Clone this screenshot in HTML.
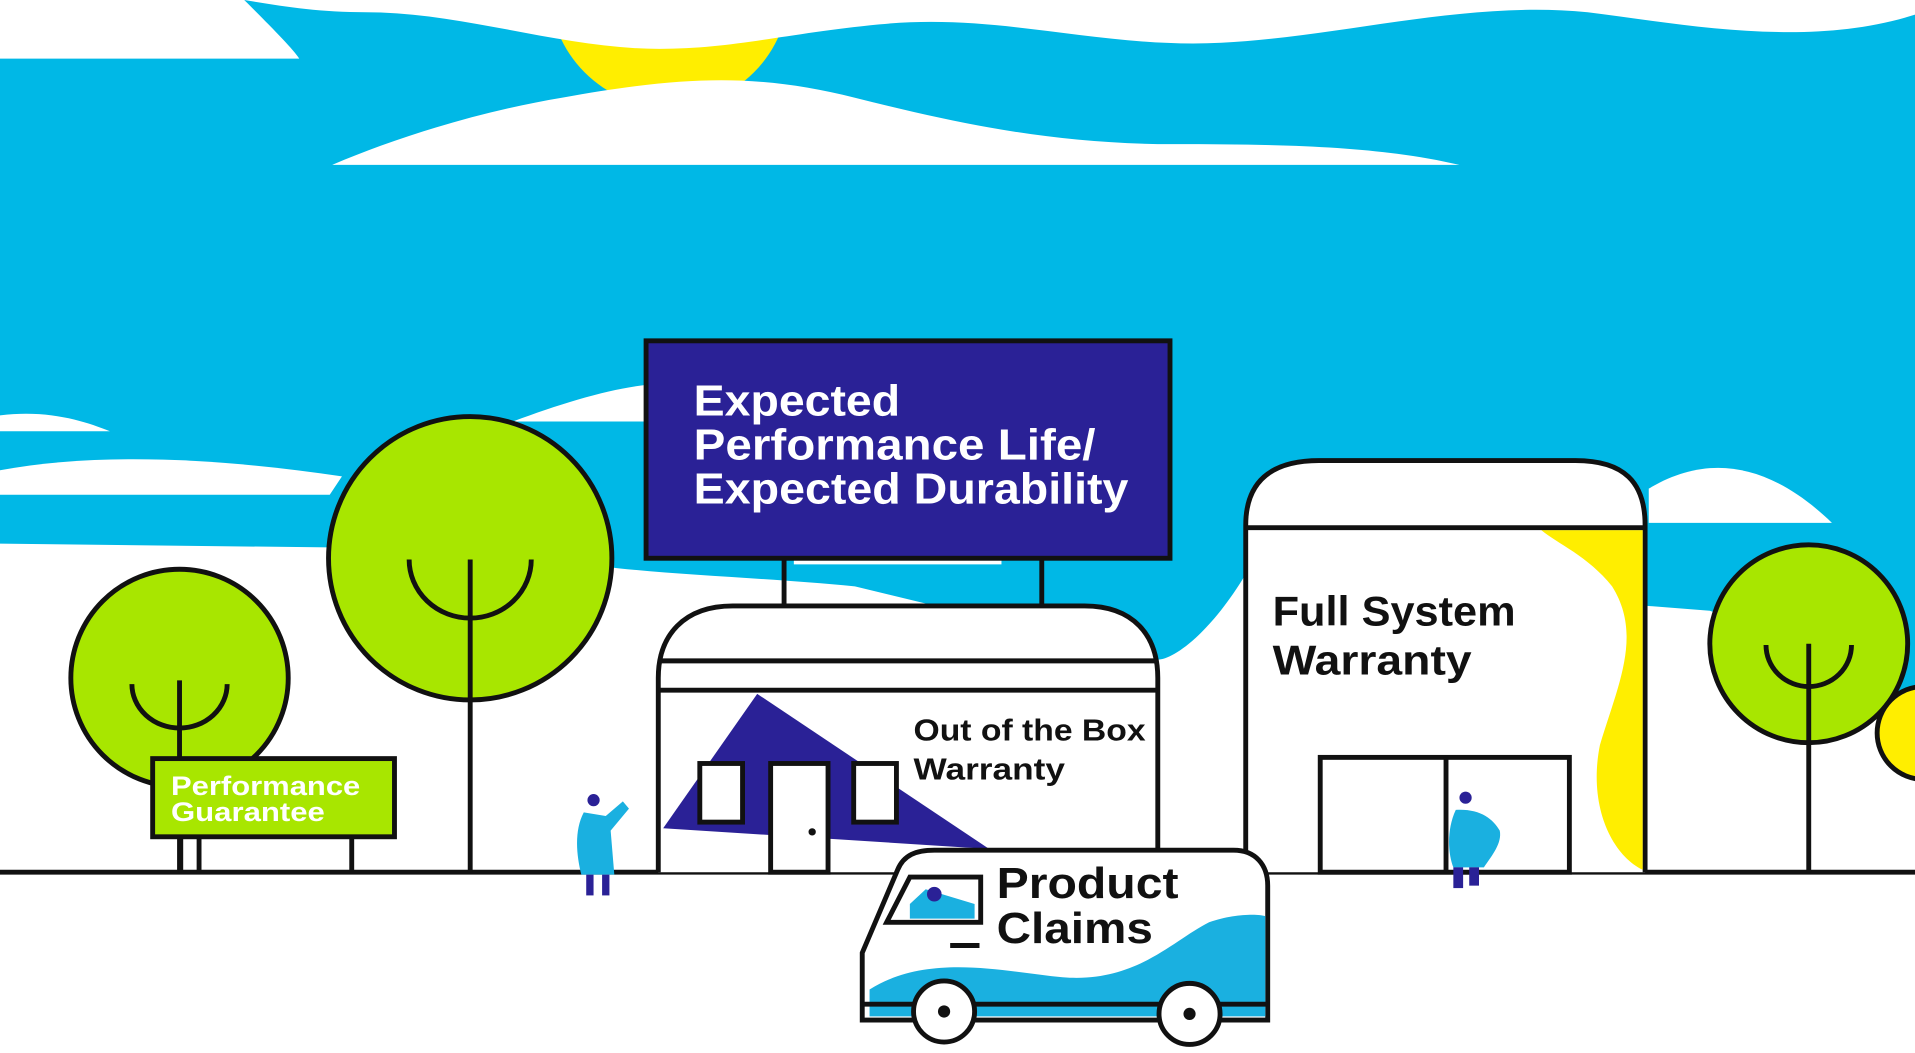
<!DOCTYPE html>
<html><head><meta charset="utf-8"><style>
html,body{margin:0;padding:0;background:#fff;overflow:hidden}
svg{display:block}
text{font-family:"Liberation Sans",sans-serif;font-weight:bold}
</style></head><body>
<svg width="1915" height="1053" viewBox="0 0 1568 862" preserveAspectRatio="none" xmlns="http://www.w3.org/2000/svg">
<rect width="1568" height="862" fill="#fff"/>
<path d="M0 0 H1568 V570 C1500 560 1460 520 1400 500 L1020 470 C990 520 960 540 948 540 L700 480 C600 470 480 470 430 450 L0 445 Z" fill="#00b8e6"/>
<circle cx="548" cy="-10" r="98" fill="#ffee00"/>
<path d="M0 0 H1568 V12 C1480 40 1380 20 1300 10 C1200 0 1100 30 1000 35 C900 40 820 10 720 20 C640 28 600 40 540 40 C460 40 380 10 300 10 C260 10 230 5 200 0 Z" fill="#fff"/>
<path d="M0 0 H200 C220 20 240 40 245 48 H0 Z" fill="#fff"/>
<path d="M272 135 C330 110 400 90 460 80 C560 62 620 60 700 80 C780 100 860 118 960 118 C1060 118 1130 120 1195 135 Z" fill="#fff"/>
<path d="M0 340 C40 335 70 345 90 353 H0 Z" fill="#fff"/>
<path d="M0 385 C80 370 180 375 280 390 L270 405 H0 Z" fill="#fff"/>
<path d="M420 345 C460 330 500 318 530 315 V345 Z" fill="#fff"/>
<path d="M1350 400 C1400 370 1450 380 1500 428 H1350 Z" fill="#fff"/>
<path d="M650 462 H820 L820 457 H650 Z" fill="#fff"/>
<line x1="0" y1="714" x2="1568" y2="714" stroke="#111" stroke-width="4"/>
<g stroke="#111" stroke-width="4" fill="none">
<circle cx="147" cy="555" r="89" fill="#a8e600"/>
<line x1="147" y1="557" x2="147" y2="714"/>
<path d="M108 560 A39 36 0 0 0 186 560"/>
<circle cx="385" cy="457" r="116" fill="#a8e600"/>
<line x1="385" y1="458" x2="385" y2="714"/>
<path d="M335 458 A50 48 0 0 0 435 458"/>
<circle cx="1481" cy="527" r="81" fill="#a8e600"/>
<line x1="1481" y1="527" x2="1481" y2="714"/>
<path d="M1446 528 A35 34 0 0 0 1516 528"/>
<circle cx="1575" cy="600" r="38" fill="#ffee00"/>
</g>
<g stroke="#111" stroke-width="4">
<line x1="148" y1="684" x2="148" y2="714"/><line x1="163" y1="684" x2="163" y2="714"/><line x1="288" y1="684" x2="288" y2="714"/>
<rect x="125" y="621" width="198" height="64" fill="#a8e600"/>
</g>
<text x="140" y="651" font-size="22" fill="#fff" textLength="155" lengthAdjust="spacingAndGlyphs">Performance</text>
<text x="140" y="672" font-size="22" fill="#fff" textLength="126" lengthAdjust="spacingAndGlyphs">Guarantee</text>
<g stroke="#111" stroke-width="4">
<line x1="642" y1="457" x2="642" y2="497"/><line x1="853" y1="457" x2="853" y2="497"/>
<rect x="529" y="279" width="429" height="178" fill="#2a2196"/>
</g>
<text font-size="36" fill="#fff"><tspan x="568" y="340" textLength="169" lengthAdjust="spacingAndGlyphs">Expected</tspan></text>
<text font-size="36" fill="#fff"><tspan x="568" y="376" textLength="329" lengthAdjust="spacingAndGlyphs">Performance Life/</tspan></text>
<text font-size="36" fill="#fff"><tspan x="568" y="412" textLength="356" lengthAdjust="spacingAndGlyphs">Expected Durability</tspan></text>
<path d="M539 714 V555 C539 520 560 496 600 496 H888 C928 496 948 520 948 555 V714" fill="#fff" stroke="#111" stroke-width="4"/>
<line x1="539" y1="541" x2="948" y2="541" stroke="#111" stroke-width="4"/>
<line x1="539" y1="565" x2="948" y2="565" stroke="#111" stroke-width="4"/>
<polygon points="620,568 543,678 810,695" fill="#2a2196"/>
<g stroke="#111" stroke-width="4" fill="#fff">
<rect x="573" y="625" width="35" height="48"/>
<rect x="699" y="625" width="35" height="48"/>
<rect x="631" y="625" width="47" height="89"/>
</g>
<circle cx="665" cy="681" r="3" fill="#111"/>
<text x="748" y="606" font-size="25" fill="#111" textLength="190" lengthAdjust="spacingAndGlyphs">Out of the Box</text>
<text x="748" y="638" font-size="25" fill="#111" textLength="124" lengthAdjust="spacingAndGlyphs">Warranty</text>
<path d="M1020 714 V430 C1020 395 1040 377 1080 377 H1290 C1330 377 1347 395 1347 430 V714" fill="#fff" stroke="#111" stroke-width="4"/>
<path d="M1262 434 H1345 V712 C1320 700 1300 660 1310 610 C1325 560 1345 520 1320 480 C1300 455 1275 445 1262 434 Z" fill="#ffee00"/>
<line x1="1020" y1="432" x2="1347" y2="432" stroke="#111" stroke-width="4"/>
<rect x="1081" y="620" width="204" height="94" fill="none" stroke="#111" stroke-width="4"/>
<line x1="1184" y1="620" x2="1184" y2="714" stroke="#111" stroke-width="4"/>
<text x="1042" y="512" font-size="34" fill="#111" textLength="199" lengthAdjust="spacingAndGlyphs">Full System</text>
<text x="1042" y="552" font-size="34" fill="#111" textLength="163" lengthAdjust="spacingAndGlyphs">Warranty</text>
<g>
<circle cx="486" cy="655" r="5" fill="#2a2196"/>
<path d="M478 665 C470 680 472 700 476 716 H503 L500 680 L515 662 L510 656 L496 668 Z" fill="#1ab0e0"/>
<rect x="480" y="716" width="6" height="17" fill="#2a2196"/><rect x="493" y="716" width="6" height="17" fill="#2a2196"/>
<circle cx="1200" cy="653" r="5" fill="#2a2196"/>
<path d="M1192 663 C1184 680 1186 700 1190 710 H1215 C1222 700 1230 690 1228 680 C1222 670 1212 662 1192 663 Z" fill="#1ab0e0"/>
<rect x="1190" y="710" width="8" height="17" fill="#2a2196"/><rect x="1203" y="710" width="8" height="15" fill="#2a2196"/>
</g>
<path d="M706 835 V780 L735 712 C740 700 750 696 765 696 H1010 C1028 696 1038 708 1038 725 V835 Z" fill="#fff" stroke="#111" stroke-width="4"/>
<path d="M712 832 V810 C760 780 820 795 870 800 C930 805 960 770 990 755 C1010 748 1030 748 1036 750 V832 Z" fill="#1ab0e0"/>
<line x1="706" y1="822" x2="1038" y2="822" stroke="#111" stroke-width="4"/>
<path d="M726 755 L745 718 H803 V755 Z" fill="#fff" stroke="#111" stroke-width="4"/>
<path d="M745 740 L758 728 L798 740 V752 H745 Z" fill="#1ab0e0"/>
<circle cx="765" cy="732" r="6" fill="#2a2196"/>
<line x1="778" y1="774" x2="802" y2="774" stroke="#111" stroke-width="4"/>
<text x="816" y="735" font-size="36" fill="#111" textLength="149" lengthAdjust="spacingAndGlyphs">Product</text>
<text x="816" y="772" font-size="36" fill="#111" textLength="128" lengthAdjust="spacingAndGlyphs">Claims</text>
<g stroke="#111" stroke-width="4" fill="#fff">
<circle cx="773" cy="828" r="25"/><circle cx="974" cy="830" r="25"/>
</g>
<circle cx="773" cy="828" r="5" fill="#111"/><circle cx="974" cy="830" r="5" fill="#111"/>
</svg>
</body></html>
